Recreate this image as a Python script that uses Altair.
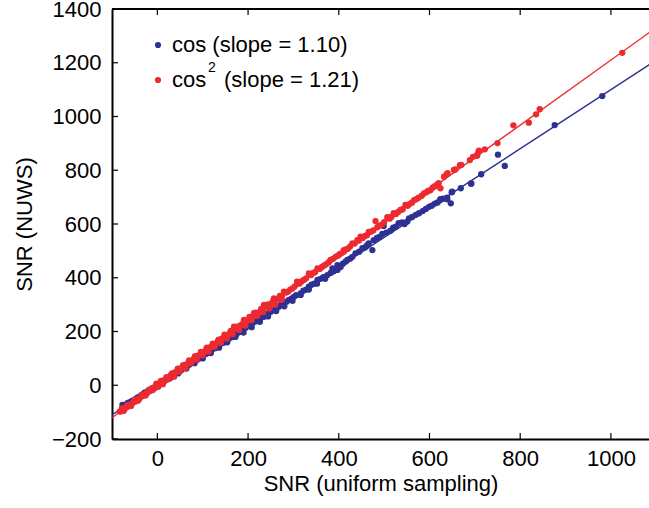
import altair as alt
import pandas as pd

# ---- data ----
cos_x = [-77, -72, -68, -63, -60, -55, -52, -47, -43, -40, -36, -31, -28, -24, -20, -16, -12, -8, -4, 0,
         3, 7, 12, 16, 21, 25, 30, 34, 39, 44, 48, 53, 57, 62, 66, 71, 76, 80, 85, 89,
         94, 99, 103, 108, 113, 117, 122, 127, 131, 136, 141, 146, 150, 155, 160, 164, 169, 174, 179, 184,
         188, 191, 195, 200, 205, 210, 213, 218, 224, 229, 235, 240, 246, 251, 257, 262, 268, 273, 279, 285,
         290, 296, 301, 306, 316, 322, 328, 334, 340, 346, 353, 360, 366, 375, 382, 386, 389, 397, 397, 404,
         409, 415, 419, 425, 430, 437, 445, 452, 458, 462, 466, 474, 477, 484, 490, 496, 499, 505, 514, 520,
         526, 532, 540, 545, 551, 555, 562, 570, 577, 585, 592, 599, 605, 612, 618, 624, 624, 630, 639, 639,
         647, 649, 650, 669, 692, 692, 714, 751, 766, 876, 981,
         -74, -65, -57, -38, -22, -6, 10, 28, 46, 64, 82, 100, 118, 136, 154, 172, 190, 208, 226, 244,
         262, 280, 298, 316, 334, 352, 370]
cos_y = [-73, -74, -70, -66, -63, -57, -59, -50, -45, -46, -38, -33, -28, -27, -20, -18, -12, -10, -3, -2,
         4, 6, 14, 16, 24, 26, 34, 36, 44, 47, 54, 57, 64, 66, 73, 77, 84, 86, 94, 96,
         104, 107, 113, 117, 125, 127, 135, 138, 145, 148, 155, 158, 166, 168, 177, 179, 186, 189, 197, 200,
         207, 214, 214, 221, 224, 232, 236, 238, 245, 251, 255, 262, 270, 274, 280, 289, 292, 300, 299, 311,
         318, 322, 329, 335, 342, 352, 356, 367, 374, 378, 392, 396, 402, 410, 418, 435, 424, 429, 447, 440,
         452, 460, 466, 471, 478, 491, 497, 510, 513, 520, 528, 503, 540, 548, 552, 563, 593, 568, 575, 586,
         590, 603, 606, 600, 609, 621, 626, 634, 640, 648, 656, 664, 668, 676, 680, 689, 692, 694, 692, 698,
         677, 718, 720, 733, 750, 751, 785, 858, 816, 968, 1076,
         -78, -66, -64, -44, -28, -10, 6, 26, 44, 62, 82, 100, 120, 140, 160, 180, 196, 216, 236, 256,
         276, 294, 314, 336, 356, 378, 396]

cos2_x = [-83, -80, -76, -72, -68, -64, -60, -56, -52, -48, -44, -40, -36, -32, -28, -24, -20, -16, -12, -8,
          -4, 0, 3, 6, 10, 14, 18, 22, 26, 30, 35, 39, 43, 47, 51, 55, 60, 64, 68, 72,
          77, 81, 85, 90, 94, 98, 103, 107, 111, 116, 120, 124, 129, 133, 138, 142, 146, 151, 155, 160,
          164, 169, 173, 178, 183, 187, 191, 196, 200, 205, 209, 213, 218, 222, 227, 231, 235, 240, 244, 249,
          253, 257, 262, 266, 271, 275, 279, 284, 288, 293, 298, 303, 308, 313, 318, 323, 328, 334, 339, 344,
          348, 353, 358, 363, 368, 373, 378, 382, 387, 393, 398, 402, 406, 411, 411, 416, 420, 425, 430, 435,
          441, 444, 448, 453, 458, 462, 466, 471, 476, 481, 485, 490, 495, 500, 507, 512, 516, 521, 526, 531,
          536, 541, 547, 552, 556, 561, 566, 571, 576, 583, 588, 593, 597, 602, 607, 611, 616, 620, 624, 632,
          638, 640, 654, 657, 667, 670, 689, 696, 705, 705, 708, 709, 722, 750, 785, 819, 835, 843, 1025,
          -78, -74, -66, -58, -50, -42, -34, -26, -18, -10, -2, 2, 8, 12, 20, 24, 32, 37, 45, 49,
          57, 62, 70, 74, 83, 87, 96, 100, 109, 113, 122, 126, 135, 140, 148, 153, 162, 166, 175, 180,
          190, 194, 203, 207, 216, 220, 229, 233, 242, 247, 256, 260, 270, 274]
cos2_y = [-98, -97, -90, -88, -80, -79, -71, -69, -62, -60, -52, -50, -42, -40, -33, -30, -23, -21, -13, -11,
          -4, 2, -1, 9, 11, 18, 20, 28, 30, 38, 41, 48, 51, 58, 60, 68, 71, 78, 81, 89,
          92, 99, 102, 110, 112, 120, 123, 131, 133, 141, 144, 151, 154, 162, 165, 173, 175, 184, 186, 195,
          197, 218, 211, 214, 223, 225, 243, 238, 241, 250, 252, 268, 265, 268, 276, 279, 299, 292, 294, 303,
          305, 323, 318, 321, 330, 332, 348, 345, 348, 356, 360, 368, 385, 378, 386, 392, 398, 416, 410, 418,
          421, 435, 433, 440, 446, 451, 458, 466, 470, 478, 482, 488, 491, 497, 503, 505, 508, 516, 528, 527,
          540, 538, 553, 548, 556, 558, 571, 571, 576, 611, 588, 594, 598, 607, 625, 620, 626, 640, 637, 645,
          652, 655, 671, 668, 674, 679, 689, 692, 698, 705, 714, 718, 723, 726, 735, 740, 745, 752, 733, 776,
          785, 789, 801, 803, 819, 820, 838, 850, 854, 857, 868, 873, 878, 901, 967, 977, 1008, 1027, 1237,
          -86, -95, -74, -77, -55, -57, -36, -38, -16, -18, 6, -6, 16, 4, 30, 22, 44, 32, 62, 50,
          75, 63, 92, 82, 108, 96, 124, 112, 140, 126, 155, 143, 170, 158, 188, 174, 202, 190, 218, 206,
          234, 222, 254, 242, 270, 258, 284, 272, 300, 286, 316, 300, 332, 318]

slopes = [1.10, 1.21]
series = ["cos", "cos2"]
legend_labels = ["cos (slope = 1.10)", "(slope = 1.21)"]
x_ticks = [0, 200, 400, 600, 800, 1000]
y_ticks = [-200, 0, 200, 400, 600, 800, 1000, 1200, 1400]
x_extent = [-100, 1100]

BLUE = "#2E3192"
RED = "#EC2A30"
FONT = "Liberation Sans"
W, H = 537, 430

pts = pd.concat([
    pd.DataFrame({"x": cos_x, "y": cos_y, "s": "cos"}),
    pd.DataFrame({"x": cos2_x, "y": cos2_y, "s": "cos2"}),
])
fit = pd.DataFrame([{"x": xv, "y": m * xv, "s": s}
                    for s, m in zip(series, slopes) for xv in x_extent])

xs = alt.Scale(domain=[-100, 1084], nice=False, zero=False)
ys = alt.Scale(domain=[-200, 1400], nice=False, zero=False)
ax_x = alt.Axis(values=x_ticks, format="d", title="SNR (uniform sampling)", ticks=False, grid=False,
                domainColor="black", domainWidth=2, labelFont=FONT, labelFontSize=22,
                labelColor="black", labelPadding=9, titleFont=FONT, titleFontSize=22,
                titleFontWeight="normal", titleColor="black", titlePadding=4)
ax_y = alt.Axis(values=y_ticks, format="d", title="SNR (NUWS)", ticks=False, grid=False,
                domainColor="black", domainWidth=2, labelFont=FONT, labelFontSize=22,
                labelColor="black", labelPadding=11, titleFont=FONT, titleFontSize=22,
                titleFontWeight="normal", titleColor="black", titlePadding=15,
                labelExpr="replace(datum.label, '-', '\u2212')")
cscale = alt.Scale(domain=series, range=[BLUE, RED])

X = alt.X("x:Q", scale=xs, axis=ax_x)
Y = alt.Y("y:Q", scale=ys, axis=ax_y)

lines = alt.Chart(fit).mark_line(strokeWidth=1.4, clip=True).encode(
    x=X, y=Y, color=alt.Color("s:N", scale=cscale, legend=None), detail="s:N")
blue_pts = alt.Chart(pts[pts.s == "cos"]).mark_circle(size=40, opacity=1, color=BLUE).encode(x=X, y=Y)
red_pts = alt.Chart(pts[pts.s == "cos2"]).mark_circle(size=40, opacity=1, color=RED).encode(x=X, y=Y)

xt = pd.DataFrame({"x": x_ticks})
yt = pd.DataFrame({"y": y_ticks})
bottom_ticks = alt.Chart(xt).mark_rule(color="black", strokeWidth=1.2).encode(
    x=X, y=alt.value(H), y2=alt.value(H - 6))
top_ticks = alt.Chart(xt).mark_rule(color="black", strokeWidth=1.2).encode(
    x=X, y=alt.value(0), y2=alt.value(6))
left_ticks = alt.Chart(yt).mark_rule(color="black", strokeWidth=1.2).encode(
    y=Y, x=alt.value(0), x2=alt.value(6))
top_border = alt.Chart(xt.head(1)).mark_rule(color="black", strokeWidth=2).encode(
    x=alt.value(0), x2=alt.value(W), y=alt.value(0))

leg = pd.DataFrame({"t": [0]})
leg_blue = alt.Chart(leg).mark_circle(size=38, opacity=1, color=BLUE).encode(
    x=alt.value(46), y=alt.value(36))
leg_red = alt.Chart(leg).mark_circle(size=38, opacity=1, color=RED).encode(
    x=alt.value(46), y=alt.value(71))
txt = dict(font=FONT, color="black", align="left", baseline="alphabetic")
leg_t1 = alt.Chart(leg).mark_text(fontSize=22, **txt).encode(
    x=alt.value(60), y=alt.value(43), text=alt.value(legend_labels[0]))
leg_t2a = alt.Chart(leg).mark_text(fontSize=22, **txt).encode(
    x=alt.value(60), y=alt.value(78), text=alt.value("cos"))
leg_t2b = alt.Chart(leg).mark_text(fontSize=14, **txt).encode(
    x=alt.value(96), y=alt.value(63), text=alt.value("2"))
leg_t2c = alt.Chart(leg).mark_text(fontSize=22, **txt).encode(
    x=alt.value(112), y=alt.value(78), text=alt.value(legend_labels[1]))

chart = alt.layer(
    lines, blue_pts, red_pts, bottom_ticks, top_ticks, left_ticks, top_border,
    leg_blue, leg_red, leg_t1, leg_t2a, leg_t2b, leg_t2c
).properties(
    width=W, height=H,
    autosize=alt.AutoSizeParams(type="none"),
    padding={"left": 112, "top": 9, "right": 0, "bottom": 69},
    background="white",
).configure_view(stroke=None)

chart.save("out.html", embed_options={"renderer": "svg", "actions": False})
